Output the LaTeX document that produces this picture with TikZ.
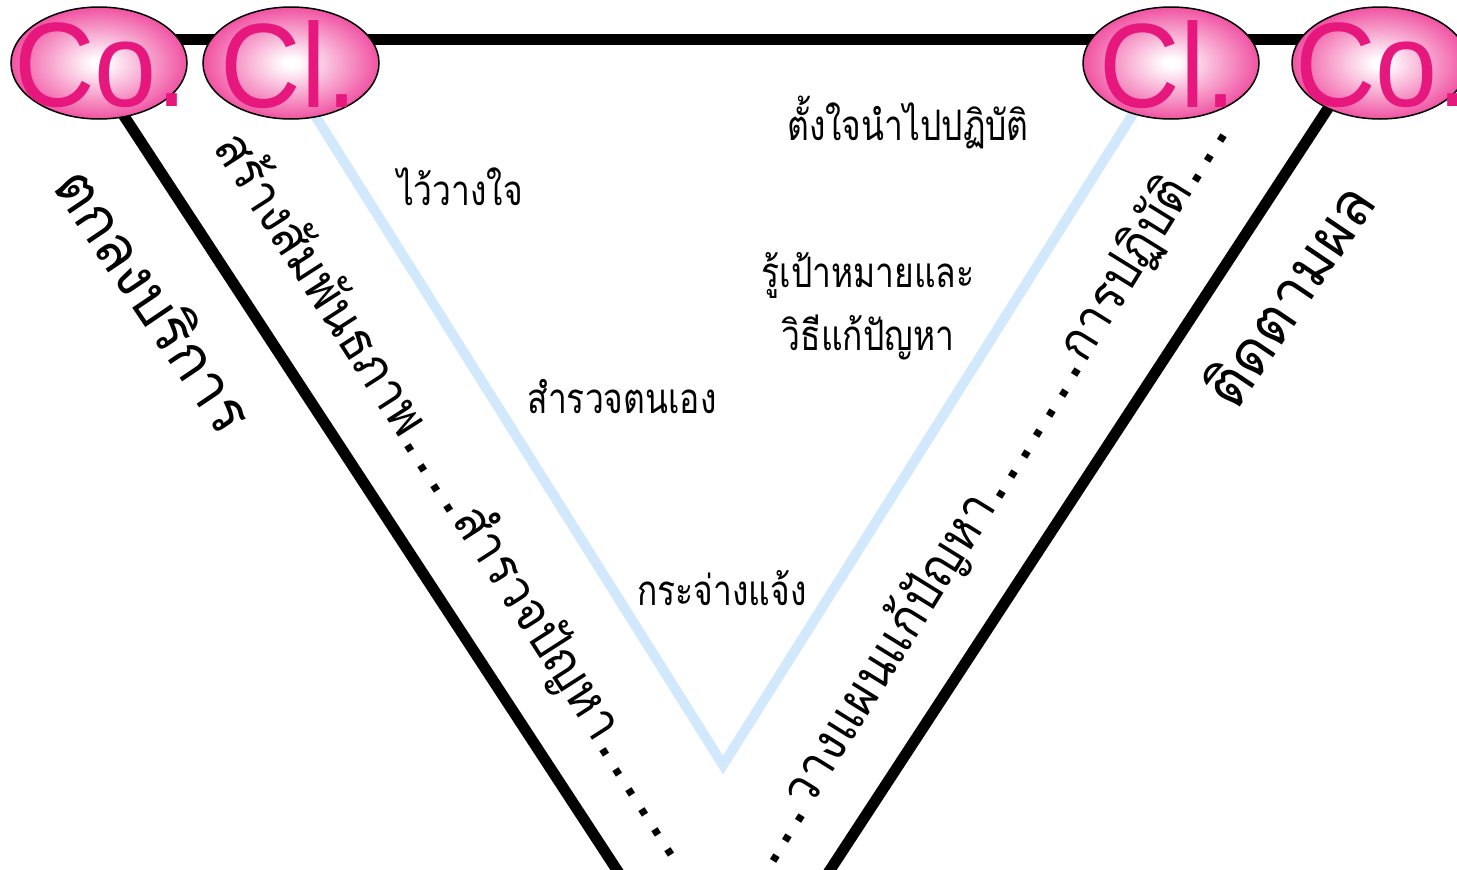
\documentclass[tikz,border=0pt]{standalone}
\usepackage{fontspec}
\newfontfamily\thaifont[Script=Thai]{Loma}
\newfontfamily\latinsans{Liberation Sans}
\usetikzlibrary{shapes.geometric}
\definecolor{pinkedge}{RGB}{236,30,134}
\definecolor{pinktext}{RGB}{230,23,125}
\definecolor{lightblue}{RGB}{210,232,252}
\pgfdeclareradialshading{pinkball}{\pgfpoint{0bp}{0bp}}{color(0bp)=(white); color(2bp)=(white); color(32bp)=(pinkedge); color(75bp)=(pinkedge)}
\newcommand\dt{\makebox[0.5em]{\fontsize{74}{74}\selectfont .}}
\tikzset{
  ball/.style={ellipse, draw=black, line width=1.5pt, shading=pinkball, minimum width=176pt, minimum height=112pt, inner sep=0pt},
  balltext/.style={text=pinktext, font=\latinsans\fontsize{120}{120}\selectfont, inner sep=0pt, xscale=0.93, transform shape},
  thick line/.style={line width=11pt, black},
  blue line/.style={line width=10pt, lightblue, line join=miter},
  outertext/.style={font=\thaifont\fontsize{61}{66}\selectfont, inner sep=0pt, xscale=0.95, transform shape},
  midtext/.style={font=\thaifont\fontsize{53}{58}\selectfont, inner sep=0pt, xscale=0.9, transform shape},
  innertext/.style={font=\thaifont\fontsize{42}{46}\selectfont, inner sep=0pt, anchor=base, xscale=0.8, transform shape}
}
\begin{document}
\begin{tikzpicture}[x=1pt,y=-1pt]
\useasboundingbox (0,0) rectangle (1457,870);
% coordinates
\coordinate (LT) at (107,90);
\coordinate (LB) at (630,890);
\coordinate (RT) at (1340,90);
\coordinate (RB) at (817,890);
\coordinate (BL) at (299,90);
\coordinate (BV) at (723,765);
\coordinate (BR) at (1148,90);
\coordinate (TL) at (99,39);
\coordinate (TR) at (1380,39);
% lines
\draw[thick line] (TL) -- (TR);
\draw[thick line] (LT) -- (LB);
\draw[thick line] (RT) -- (RB);
\draw[blue line] (BL) -- (BV) -- (BR);
% balls
\node[ball] (co1) at (99,63) {};
\node[ball] (cl1) at (291,63) {};
\node[ball] (cl2) at (1171,63) {};
\node[ball] (co2) at (1380,63) {};
\node[balltext] (co1t) at (101,65) {Co.};
\node[balltext] (cl1t) at (289,65) {Cl.};
\node[balltext] (cl2t) at (1168,65) {Cl.};
\node[balltext] (co2t) at (1382,65) {Co.};
% rotated texts
\node[rotate=-56, outertext] (t1) at (156,299) {ตกลงบริการ};
\node[rotate=56, outertext] (t2) at (1287,294) {ติดตามผล};
\node[rotate=-57.3, midtext] (t3) at (456,497) {สร้างสัมพันธภาพ\dt\dt\dt\dt สำรวจปัญหา\dt\dt\dt\dt\dt\dt};
\node[rotate=58.2, midtext] (t4) at (988,492) {\dt\dt\dt วางแผนแก้ปัญหา\dt\dt\dt\dt\dt\dt\dt การปฏิบัติ\dt\dt\dt};
% inner texts
\node[innertext] (i1) at (908,140) {ตั้งใจนำไปปฏิบัติ};
\node[innertext] (i2) at (460,205) {ไว้วางใจ};
\node[innertext] (i3) at (868,287) {รู้เป้าหมายและ};
\node[innertext] (i4) at (868,350) {วิธีแก้ปัญหา};
\node[innertext] (i5) at (622,413) {สำรวจตนเอง};
\node[innertext] (i6) at (722,605) {กระจ่างแจ้ง};
\end{tikzpicture}
\end{document}
